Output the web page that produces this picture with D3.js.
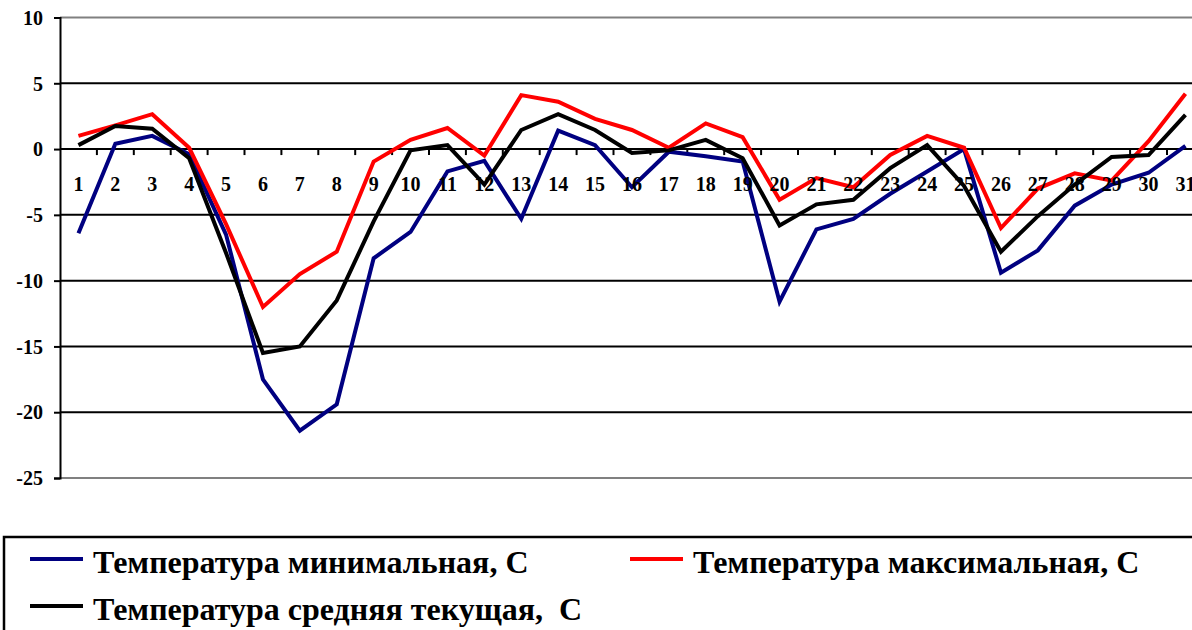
<!DOCTYPE html>
<html>
<head>
<meta charset="utf-8">
<script src="https://cdn.jsdelivr.net/npm/d3@7"></script>
<style>
  html, body { margin: 0; padding: 0; background: #fff; overflow: hidden; }
  #wrap { position: relative; width: 1192px; height: 630px; overflow: hidden; }
  #chart { position: absolute; left: 0; top: 0; }
  #labels { position: absolute; left: 0; top: 0; width: 1192px; height: 630px; }
</style>
</head>
<body>
<div id="wrap">
  <svg id="chart" width="1192" height="630"></svg>
  <div id="labels"></div>
</div>
<script>
// дни месяца
const days = d3.range(1, 32);

// температура минимальная
const tMin = [-6.4, 0.4, 1.0, -0.4, -6.5, -17.5, -21.4, -19.4, -8.3, -6.3,
              -1.7, -0.9, -5.3, 1.4, 0.3, -2.9, -0.2, -0.55, -0.95, -11.6,
              -6.1, -5.3, -3.4, -1.7, 0.0, -9.4, -7.7, -4.3, -2.7, -1.8, 0.25];

// температура максимальная
const tMax = [1.0, 1.8, 2.65, 0.1, -5.7, -12.0, -9.5, -7.8, -0.95, 0.7,
              1.6, -0.5, 4.1, 3.6, 2.3, 1.45, 0.1, 1.95, 0.9, -3.85,
              -2.2, -2.9, -0.45, 1.0, 0.1, -6.0, -3.0, -1.85, -2.4, 0.6, 4.2];

// температура средняя
const tMean = [0.3, 1.75, 1.55, -0.7, -7.9, -15.5, -15.0, -11.5, -5.5, -0.1,
               0.3, -2.7, 1.45, 2.65, 1.45, -0.3, -0.1, 0.7, -0.7, -5.8,
               -4.2, -3.85, -1.45, 0.3, -2.8, -7.8, -5.1, -2.7, -0.6, -0.45, 2.6];

const yTicks = [10, 5, 0, -5, -10, -15, -20, -25];

const seriesNames = [
  "Температура минимальная, С",
  "Температура максимальная, С",
  "Температура средняя текущая,  С"
];
const seriesColors = ["#000080", "#ff0000", "#000000"];

const series = [tMin, tMax, tMean].map((vals, i) => ({
  name: seriesNames[i],
  color: seriesColors[i],
  values: vals.map((v, j) => ({ day: days[j], v: v }))
}));

/* ---------- размеры ---------- */
const plotLeft = 60, plotTop = 17.5, plotBottom = 478;
const bandW = 36.9;

const svg = d3.select("#chart");
const labels = d3.select("#labels");

// стиль подписи: Times-подобный жирный шрифт
const lblStyle = (size, extra) =>
  `position:absolute;font-family:'Liberation Serif';font-weight:bold;color:#000;` +
  `white-space:pre;font-size:${size}px;line-height:${size}px;` + extra;

// верх div-а по базовой линии текста (line-height = font-size)
const topFromBaseline = (base, size) => base - 0.8375 * size;

const x = d3.scaleBand()
  .domain(days)
  .range([plotLeft, plotLeft + bandW * days.length])
  .padding(0);

const y = d3.scaleLinear()
  .domain([-25, 10])
  .range([plotBottom, plotTop]);

const cx = d => x(d) + x.bandwidth() / 2;

/* ---------- сетка ---------- */
svg.append("g")
  .selectAll("line")
  .data(yTicks)
  .enter()
  .append("line")
  .attr("x1", plotLeft)
  .attr("x2", x.range()[1])
  .attr("y1", d => y(d))
  .attr("y2", d => y(d))
  .attr("stroke", d => (d === 10 || d === -25) ? "#808080" : "#000")
  .attr("stroke-width", 2);

/* ---------- ось Y ---------- */
const yAxis = svg.append("g")
  .attr("transform", `translate(${plotLeft},0)`)
  .call(d3.axisLeft(y).tickValues(yTicks).tickSize(6).tickFormat(""));
yAxis.select(".domain").attr("stroke", "#000").attr("stroke-width", 2);
yAxis.selectAll(".tick line").attr("stroke", "#000").attr("stroke-width", 2);
yAxis.selectAll(".tick text").remove();

labels.selectAll(".ylbl")
  .data(yTicks)
  .enter()
  .append("div")
  .attr("class", "ylbl")
  .attr("style", d => lblStyle(20,
    `left:0px;width:43px;text-align:right;top:${topFromBaseline(y(d) + 7, 20)}px;`))
  .text(d => d);

/* ---------- ось X (на нуле) ---------- */
const zeroY = y(0);
svg.append("g")
  .selectAll("line")
  .data(d3.range(1, days.length + 1))
  .enter()
  .append("line")
  .attr("x1", d => plotLeft + d * bandW)
  .attr("x2", d => plotLeft + d * bandW)
  .attr("y1", zeroY)
  .attr("y2", zeroY + 6)
  .attr("stroke", "#000")
  .attr("stroke-width", 2);

labels.selectAll(".xlbl")
  .data(days)
  .enter()
  .append("div")
  .attr("class", "xlbl")
  .attr("style", d => lblStyle(20,
    `left:${cx(d) - 20}px;width:40px;text-align:center;top:${topFromBaseline(zeroY + 42, 20)}px;`))
  .text(d => d);

/* ---------- линии ---------- */
const line = d3.line()
  .x(d => cx(d.day))
  .y(d => y(d.v));

svg.append("g")
  .selectAll("path")
  .data(series)
  .enter()
  .append("path")
  .attr("d", d => line(d.values))
  .attr("fill", "none")
  .attr("stroke", d => d.color)
  .attr("stroke-width", 4)
  .attr("stroke-linejoin", "miter");

/* ---------- легенда ---------- */
svg.append("rect")
  .attr("x", 4)
  .attr("y", 537)
  .attr("width", 1200)
  .attr("height", 120)
  .attr("fill", "none")
  .attr("stroke", "#000")
  .attr("stroke-width", 2.5);

const legendPos = [
  { x: 30, y: 559 },
  { x: 630, y: 559 },
  { x: 30, y: 606 }
];

svg.append("g")
  .selectAll("line")
  .data(series)
  .enter()
  .append("line")
  .attr("x1", (d, i) => legendPos[i].x)
  .attr("x2", (d, i) => legendPos[i].x + 53)
  .attr("y1", (d, i) => legendPos[i].y)
  .attr("y2", (d, i) => legendPos[i].y)
  .attr("stroke", d => d.color)
  .attr("stroke-width", 4);

labels.selectAll(".leg")
  .data(series)
  .enter()
  .append("div")
  .attr("class", "leg")
  .attr("style", (d, i) => lblStyle(32,
    `left:${legendPos[i].x + 63}px;top:${topFromBaseline(legendPos[i].y + 14, 32)}px;`))
  .text(d => d.name);
</script>
</body>
</html>
